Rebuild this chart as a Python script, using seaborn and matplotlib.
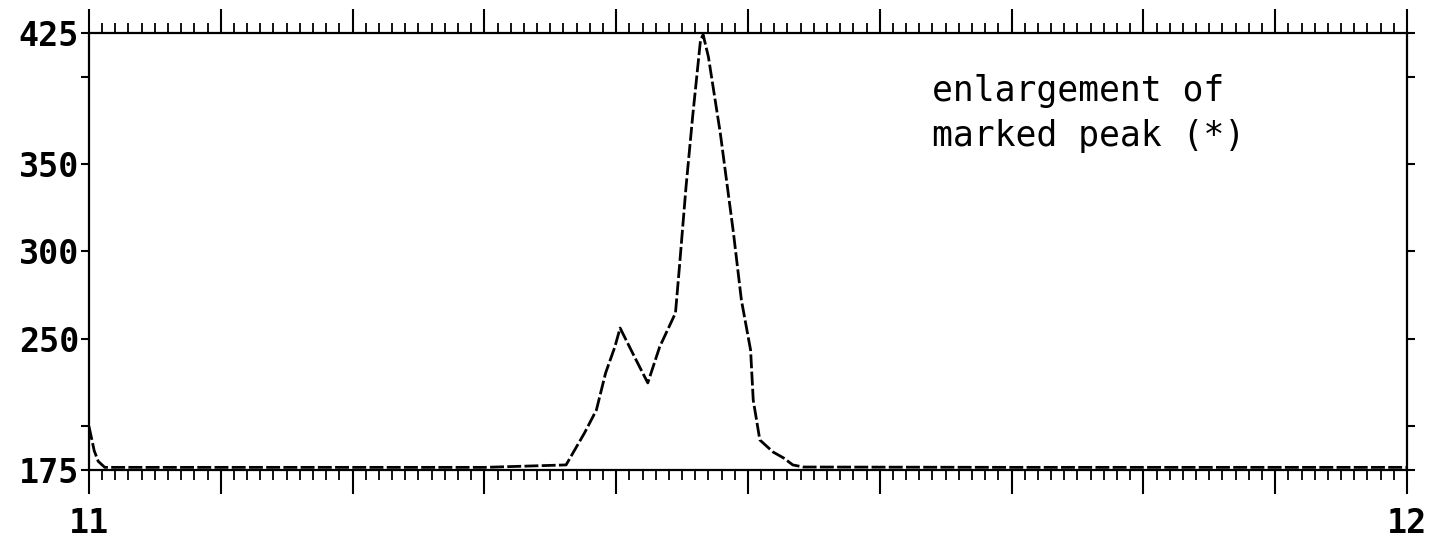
import numpy as np
import pandas as pd
import matplotlib
matplotlib.use("Agg")
import matplotlib.pyplot as plt
from matplotlib import font_manager
from matplotlib.ticker import MultipleLocator
import seaborn as sns

# ---- data ----
time_min = [11.000, 11.004, 11.007, 11.012, 11.100, 11.200, 11.300, 11.362,
            11.376, 11.385, 11.392, 11.399, 11.403, 11.414, 11.424, 11.433,
            11.445, 11.448, 11.453, 11.458, 11.464, 11.466, 11.470, 11.479,
            11.489, 11.495, 11.502, 11.504, 11.509, 11.519, 11.527, 11.534,
            11.542, 11.700, 11.850, 12.000]
signal = [200.0, 186.0, 180.0, 176.5, 176.5, 176.5, 176.5, 177.9,
          196.2, 209.3, 230.5, 245.4, 256.2, 239.6, 224.8, 245.4,
          264.8, 291.1, 336.9, 376.9, 421.0, 424.0, 411.3, 367.8,
          310.6, 272.3, 243.6, 215.0, 192.2, 185.3, 181.9, 177.9,
          176.7, 176.5, 176.5, 176.5]
y_labeled_ticks = [175, 250, 300, 350, 425]
y_unlabeled_ticks = [200, 400]
x_label_ticks = [11, 12]
annotation = "enlargement of\nmarked peak (*)"

df = pd.DataFrame({"time": time_min, "signal": signal})

sns.set_theme(style="white")
names = {f.name for f in font_manager.fontManager.ttflist}
if "Liberation Sans Narrow" in names:
    FAM = "Liberation Sans Narrow"
    TSIZE, ASIZE = 30, 37
else:
    FAM = "DejaVu Sans Mono"
    TSIZE, ASIZE = 24, 25
plt.rcParams["font.family"] = [FAM, "DejaVu Sans"]
plt.rcParams["text.color"] = "black"
plt.rcParams["xtick.color"] = "black"
plt.rcParams["ytick.color"] = "black"
plt.rcParams["xtick.labelcolor"] = "black"
plt.rcParams["ytick.labelcolor"] = "black"

fig = plt.figure(figsize=(14.37, 5.56), dpi=100)
ax = fig.add_axes([0.0619, 0.1547, 0.9172, 0.7860])

sns.lineplot(data=df, x="time", y="signal", ax=ax, color="black",
             linewidth=2.0, linestyle=(0, (5, 1.2)), sort=False)

ax.set_xlim(11, 12)
ax.set_ylim(175, 425)

# x ticks: majors every 0.1 (labels only on 11 and 12), minors every 0.01
xmaj = np.round(np.arange(11, 12.0001, 0.1), 2)
ax.set_xticks(xmaj)
ax.set_xticklabels([str(int(round(v))) if abs(v - round(v)) < 1e-9 and int(round(v)) in x_label_ticks else ""
                    for v in xmaj], fontweight="bold")
ax.xaxis.set_minor_locator(MultipleLocator(0.01))

yt = sorted(y_labeled_ticks + y_unlabeled_ticks)
ax.set_yticks(yt)
ax.set_yticklabels([str(v) if v in y_labeled_ticks else "" for v in yt], fontweight="bold")

ax.tick_params(axis="x", which="major", direction="out", length=17, width=1.5,
               top=True, bottom=True, labelsize=TSIZE, pad=10, colors="black")
ax.tick_params(axis="x", which="minor", direction="out", length=7, width=1.3,
               top=True, bottom=True, colors="black")
ax.tick_params(axis="y", which="major", direction="out", length=6, width=1.5,
               left=True, right=True, labelsize=TSIZE, pad=1, colors="black")

for s in ax.spines.values():
    s.set_color("black")
    s.set_linewidth(1.6)

ax.set_xlabel("")
ax.set_ylabel("")

ax.text(0.640, 0.905, annotation, transform=ax.transAxes, ha="left", va="top",
        fontsize=ASIZE, color="black", linespacing=1.4)

fig.savefig("out.png", dpi=100)
